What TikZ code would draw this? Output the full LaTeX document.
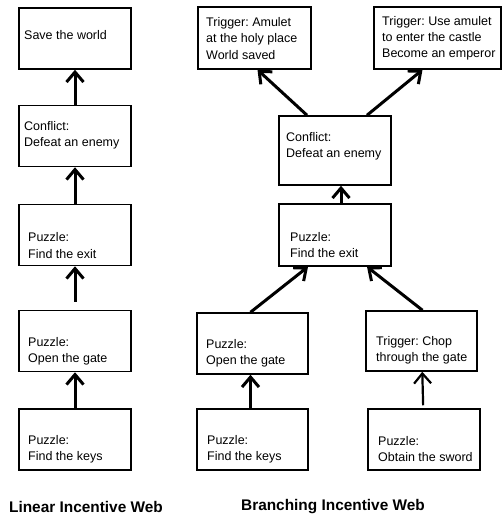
\documentclass[tikz,border=0pt]{standalone}
\usepackage{fontspec}
\setmainfont{Liberation Sans}
\usetikzlibrary{arrows.meta}
\definecolor{ink}{HTML}{000000}
\definecolor{paper}{HTML}{ffffff}
\frenchspacing

\begin{document}
\begin{tikzpicture}[x=1pt,y=-1pt,
  box/.style={draw=ink,line width=1.5pt,minimum width=112pt,minimum height=61pt,inner sep=0pt},
  txt/.style={ink,anchor=west,align=left,inner sep=0pt,font=\fontsize{12.5}{16.2}\selectfont},
  arr/.style={ink,line width=3pt,-{Straight Barb[length=10pt,width=17pt]}},
  webtitle/.style={ink,font=\bfseries\fontsize{15.4}{17}\selectfont}]
  \fill[paper] (0,0) rectangle (503,521);
  \useasboundingbox (0,0) rectangle (503,521);

  % Linear web: one column of boxes
  \node[box] (l1) at (75,38.5) {};
  \node[box] (l2) at (75,136) {};
  \node[box] (l3) at (75,235) {};
  \node[box] (l4) at (75,341) {};
  \node[box] (l5) at (75,439.5) {};

  \node[txt] (l1t) at (24,35) {Save the world};
  \node[txt] (l2t) at (24,135.5) {Conflict:\\Defeat an enemy};
  \node[txt] (l3t) at (28,245.5) {Puzzle:\\Find the exit};
  \node[txt] (l4t) at (28,351) {Puzzle:\\Open the gate};
  \node[txt] (l5t) at (28,449) {Puzzle:\\Find the keys};

  % Arrows going up the column
  \draw[arr] (l2) -- (l1);
  \draw[arr] (l3) -- (l2);
  \draw[arr,shorten <=8pt] (l4) -- (l3);
  \draw[arr] (l5) -- (l4);

  % Branching web: two roots, two endings
  \node[box,minimum width=113pt,minimum height=62pt] (bamulet) at (254.5,38) {};
  \node[box,minimum width=127pt,minimum height=62pt] (bemperor) at (437.5,38) {};
  \node[box,minimum height=69pt] (bconflict) at (335,150.5) {};
  \node[box,minimum height=62pt] (bexit) at (335,235) {};
  \node[box,minimum width=111pt] (bgate) at (252.5,343.5) {};
  \node[box,minimum width=111pt,minimum height=60pt] (bchop) at (421.5,341) {};
  \node[box,minimum width=111pt] (bkeys) at (252.5,439.5) {};
  \node[box] (bsword) at (424,439.5) {};

  \node[txt] (bamulett) at (206,38.5) {Trigger: Amulet\\at the holy place\\World saved};
  \node[txt] (bemperort) at (382,38.5) {Trigger: Use amulet\\to enter the castle\\Become an emperor};
  \node[txt] (bconflictt) at (286,146.5) {Conflict:\\Defeat an enemy};
  \node[txt] (bexitt) at (290,245) {Puzzle:\\Find the exit};
  \node[txt] (bgatet) at (206,353) {Puzzle:\\Open the gate};
  \node[txt] (bchopt) at (376,350) {Trigger: Chop\\through the gate};
  \node[txt] (bkeyst) at (207,449) {Puzzle:\\Find the keys};
  \node[txt] (bswordt) at (378,449) {Puzzle:\\Obtain the sword};

  % Arrows of the branching web
  \draw[arr] ([xshift=-28pt]bconflict.north) -- ([xshift=3pt]bamulet.south);
  \draw[arr] ([xshift=32pt]bconflict.north) -- ([xshift=-15pt]bemperor.south);
  \draw[arr] ([xshift=6pt]bexit.north) -- ([xshift=6pt]bconflict.south);
  \draw[arr] ([xshift=-2pt]bgate.north) -- ([xshift=-27pt]bexit.south);
  \draw[arr] ([xshift=1pt]bchop.north) -- ([xshift=32pt]bexit.south);
  \draw[arr] ([xshift=-2pt]bkeys.north) -- ([xshift=-2pt]bgate.south);
  \draw[arr,line width=2.2pt,shorten <=3pt] (bsword) -- (bchop);

  % Titles under each web
  \node[webtitle] (lintitle) at (86,507) {Linear Incentive Web};
  \node[webtitle] (brtitle) at (333,507) {Branching Incentive Web};

\end{tikzpicture}
\end{document}
